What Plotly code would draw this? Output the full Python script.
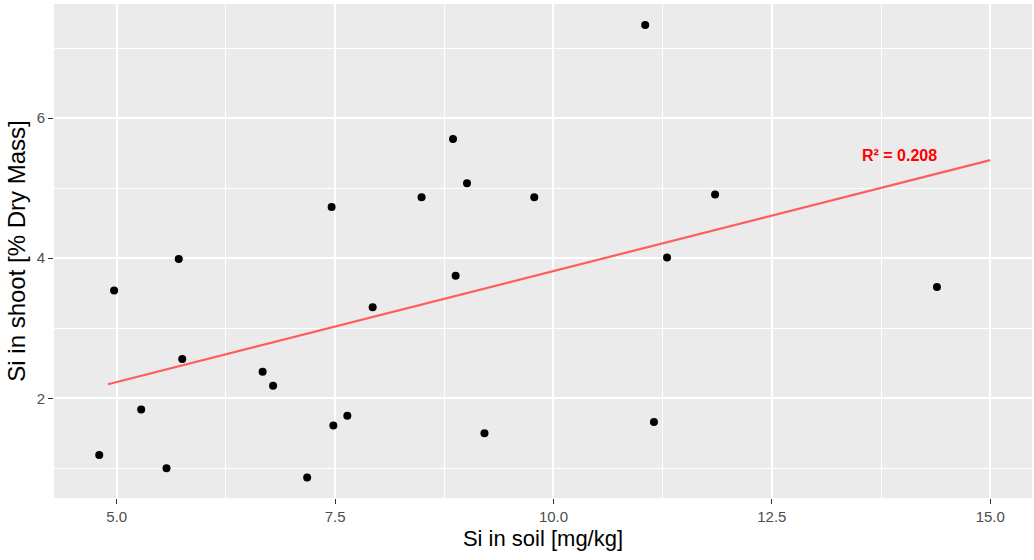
import plotly.graph_objects as go

# Data
si_soil = [4.80, 4.97, 5.28, 5.57, 5.71, 5.75, 6.67, 6.79, 7.18, 7.46, 7.48, 7.64,
           7.93, 8.49, 8.85, 8.88, 9.01, 9.21, 9.78, 11.05, 11.15, 11.30, 11.85, 14.39]
si_shoot = [1.19, 3.54, 1.84, 1.00, 3.99, 2.56, 2.38, 2.18, 0.87, 4.73, 1.61, 1.75,
            3.30, 4.87, 5.70, 3.75, 5.07, 1.50, 4.87, 7.33, 1.66, 4.01, 4.91, 3.59]

fit_x = [4.90, 15.0]
fit_y = [2.20, 5.40]

r2_label = "R² = 0.208"
r2_pos = (13.96, 5.47)

x_ticks = [5.0, 7.5, 10.0, 12.5, 15.0]
x_tick_text = ["5.0", "7.5", "10.0", "12.5", "15.0"]
x_minor = [6.25, 8.75, 11.25, 13.75]
y_ticks = [2, 4, 6]
y_minor = [1, 3, 5, 7]

FONT = "Liberation Sans, Arial, sans-serif"

fig = go.Figure()
fig.add_trace(go.Scatter(x=fit_x, y=fit_y, mode="lines",
                         line=dict(color="#FF5C5C", width=2.2),
                         hoverinfo="skip", showlegend=False))
fig.add_trace(go.Scatter(x=si_soil, y=si_shoot, mode="markers",
                         marker=dict(color="black", size=8),
                         showlegend=False))

fig.add_annotation(x=r2_pos[0], y=r2_pos[1], text="<b>" + r2_label + "</b>",
                   showarrow=False, xanchor="center", yanchor="middle",
                   font=dict(family=FONT, size=16, color="#FF0000"))

axis_common = dict(
    showline=False, zeroline=False,
    showgrid=True, gridcolor="white", gridwidth=1.6,
    ticks="outside", ticklen=5, tickwidth=1.2, tickcolor="#333333",
    tickfont=dict(family=FONT, size=15, color="#4D4D4D"),
)

fig.update_layout(
    width=1034, height=560,
    margin=dict(l=54, r=2, t=4, b=62),
    paper_bgcolor="white", plot_bgcolor="#EBEBEB",
    font=dict(family=FONT),
    xaxis=dict(
        range=[4.282, 15.478],
        tickmode="array", tickvals=x_ticks, ticktext=x_tick_text,
        minor=dict(tickmode="array", tickvals=x_minor, showgrid=True,
                   gridcolor="white", gridwidth=0.8, ticks=""),
        title=dict(text="Si in soil [mg/kg]", font=dict(family=FONT, size=22, color="black"),
                   standoff=6),
        **axis_common,
    ),
    yaxis=dict(
        range=[0.576, 7.629],
        tickmode="array", tickvals=y_ticks, ticktext=[str(v) for v in y_ticks],
        minor=dict(tickmode="array", tickvals=y_minor, showgrid=True,
                   gridcolor="white", gridwidth=0.8, ticks=""),
        title=dict(text="Si in shoot [% Dry Mass]", font=dict(family=FONT, size=24, color="black"),
                   standoff=4),
        **axis_common,
    ),
)

fig.write_html("out.html")
